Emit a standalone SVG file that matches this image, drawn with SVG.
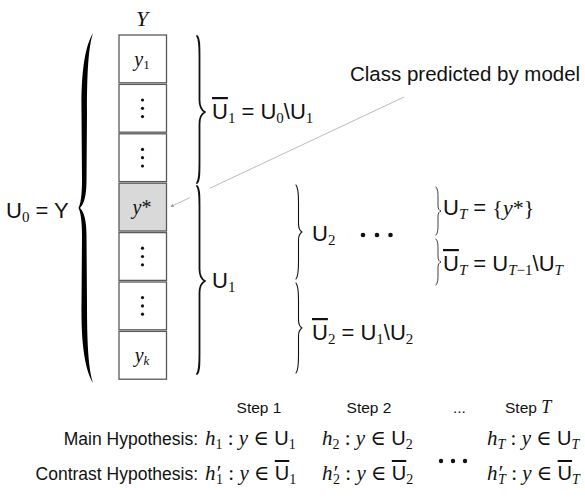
<svg xmlns="http://www.w3.org/2000/svg" width="585" height="498" viewBox="0 0 585 498">
<style>
.s{font-family:"Liberation Sans",Arial,sans-serif;fill:#111}
.m{font-family:"Liberation Serif","DejaVu Serif",serif;fill:#111}
.i{font-style:italic}
.u{font-family:"Liberation Sans",Arial,sans-serif}
.ob{text-decoration:overline}
.box{fill:#fff;stroke:#5a5a5a;stroke-width:1.3}
.brace{fill:none;stroke:#111;stroke-linecap:round;stroke-linejoin:round}
.dot{fill:#111}
</style>
<defs>
<marker id="ah" viewBox="0 0 6 6" refX="5" refY="3" markerWidth="4" markerHeight="4" orient="auto">
<path d="M0,0 L6,3 L0,6 Z" fill="#888"/>
</marker>
</defs>
<rect width="585" height="498" fill="#fff"/>

<g id="label-Y"><text x="142" y="26" class="m i" font-size="22" text-anchor="middle">Y</text></g>

<g id="column">
<g id="box1"><rect class="box" x="119" y="35" width="47.5" height="47.8"/><text x="142" y="65.5" class="m" font-size="20" text-anchor="middle"><tspan class="i">y</tspan><tspan font-size="13" dy="3">1</tspan></text></g>
<g id="box2"><rect class="box" x="119" y="84.4" width="47.5" height="47.8"/><circle class="dot" cx="142.5" cy="100" r="1.6"/><circle class="dot" cx="142.5" cy="108.3" r="1.6"/><circle class="dot" cx="142.5" cy="116.6" r="1.6"/></g>
<g id="box3"><rect class="box" x="119" y="133.8" width="47.5" height="47.8"/><circle class="dot" cx="142.5" cy="149.4" r="1.6"/><circle class="dot" cx="142.5" cy="157.7" r="1.6"/><circle class="dot" cx="142.5" cy="166" r="1.6"/></g>
<g id="box-ystar"><rect class="box" x="119" y="183.2" width="47.5" height="47.8" style="fill:#d9d9d9"/><text x="142" y="214" class="m" font-size="20" text-anchor="middle"><tspan class="i">y</tspan>*</text></g>
<g id="box5"><rect class="box" x="119" y="232.6" width="47.5" height="47.8"/><circle class="dot" cx="142.5" cy="248.2" r="1.6"/><circle class="dot" cx="142.5" cy="256.5" r="1.6"/><circle class="dot" cx="142.5" cy="264.8" r="1.6"/></g>
<g id="box6"><rect class="box" x="119" y="282" width="47.5" height="47.8"/><circle class="dot" cx="142.5" cy="297.6" r="1.6"/><circle class="dot" cx="142.5" cy="305.9" r="1.6"/><circle class="dot" cx="142.5" cy="314.2" r="1.6"/></g>
<g id="boxk"><rect class="box" x="119" y="331.4" width="47.5" height="47.8"/><text x="142" y="361.5" class="m" font-size="20" text-anchor="middle"><tspan class="i">y</tspan><tspan class="i" font-size="13" dy="3">k</tspan></text></g>
</g>

<g id="U0">
<path d="M93,33 C85,46 81,72 81.5,112 L82,180 C82,196 80.5,204 78.5,208 C80.5,212 82,220 82,236 L81.5,304 C81,344 85,370 93,383 C88.5,369 87,344 87,304 L86.5,236 C86.5,220 84,212 80,208 C84,204 86.5,196 86.5,180 L87,112 C87,72 88.5,47 93,33 Z" fill="#000"/>
<text x="6" y="218" class="s" font-size="22">U<tspan class="m" font-size="15" dy="4">0</tspan><tspan dy="-4"> = Y</tspan></text>
</g>

<g id="Ubar1">
<path class="brace" stroke-width="1.8" d="M197,36 C199.5,39 199.5,46 199.5,56 L199.5,100 C199.5,108 203,111 205,112 C203,113 199.5,116 199.5,124 L199.5,163 C199.5,173 199.5,180 197,183"/>
<text x="212" y="119" class="s" font-size="22"><tspan class="ob">U</tspan><tspan class="m" font-size="15" dy="4">1</tspan><tspan dy="-4"> = U</tspan><tspan class="m" font-size="15" dy="4">0</tspan><tspan dy="-4">\U</tspan><tspan class="m" font-size="15" dy="4">1</tspan></text>
</g>

<g id="U1">
<path class="brace" stroke-width="1.8" d="M197,186 C199.5,189 199.5,196 199.5,206 L199.5,269 C199.5,277 203,280 205,281 C203,282 199.5,285 199.5,293 L199.5,354 C199.5,364 199.5,371 197,374"/>
<text x="212" y="288" class="s" font-size="22">U<tspan class="m" font-size="15" dy="4">1</tspan></text>
</g>

<g id="U2">
<path class="brace" stroke-width="1.1" d="M296,185 C298.5,188 298.5,194 298.5,202 L298.5,224 C298.5,229 300.5,231 302,232 C300.5,233 298.5,235 298.5,240 L298.5,262 C298.5,270 298.5,276 296,279"/>
<text x="312" y="241" class="s" font-size="22">U<tspan class="m" font-size="15" dy="4">2</tspan></text>
</g>

<g id="Ubar2">
<path class="brace" stroke-width="1.1" d="M296,283 C298.5,286 298.5,292 298.5,300 L298.5,320 C298.5,325 300.5,327 302,328 C300.5,329 298.5,331 298.5,336 L298.5,356 C298.5,364 298.5,370 296,373"/>
<text x="312" y="340" class="s" font-size="22"><tspan class="ob">U</tspan><tspan class="m" font-size="15" dy="4">2</tspan><tspan dy="-4"> = U</tspan><tspan class="m" font-size="15" dy="4">1</tspan><tspan dy="-4">\U</tspan><tspan class="m" font-size="15" dy="4">2</tspan></text>
</g>

<g id="mid-dots"><circle class="dot" cx="363" cy="235" r="2.3"/><circle class="dot" cx="377" cy="235" r="2.3"/><circle class="dot" cx="390.5" cy="235" r="2.3"/></g>

<g id="UT">
<path class="brace" stroke-width="0.8" d="M436,187 C438,189 438,193 438,198 L438,206 C438,209 439.5,210.5 441,211 C439.5,211.5 438,213 438,216 L438,224 C438,229 438,233 436,235"/>
<text x="443" y="215" class="s" font-size="22">U<tspan class="m i" font-size="15" dy="4">T</tspan><tspan dy="-4"> = </tspan><tspan class="m" font-size="22">{<tspan class="i">y</tspan>*}</tspan></text>
</g>

<g id="UbarT">
<path class="brace" stroke-width="0.8" d="M436,239 C438,241 438,245 438,250 L438,257 C438,260 439.5,261.5 441,262 C439.5,262.5 438,264 438,267 L438,274 C438,279 438,283 436,285"/>
<text x="443" y="271" class="s" font-size="22"><tspan class="ob">U</tspan><tspan class="m i" font-size="15" dy="4">T</tspan><tspan dy="-4"> = U</tspan><tspan class="m" font-size="15" dy="4"><tspan class="i">T</tspan>−1</tspan><tspan dy="-4">\U</tspan><tspan class="m i" font-size="15" dy="4">T</tspan></text>
</g>

<g id="callout"><text x="350" y="81" class="s" font-size="20.5">Class predicted by model</text></g>

<g id="connectors">
<line x1="404" y1="97" x2="210" y2="188.2" stroke="#aaa" stroke-width="0.8"/>
<line x1="190" y1="197.6" x2="171" y2="206.5" stroke="#aaa" stroke-width="0.8" marker-end="url(#ah)"/>
</g>

<g id="steps">
<text x="259" y="413" class="s" font-size="15.5" text-anchor="middle">Step 1</text>
<text x="369" y="413" class="s" font-size="15.5" text-anchor="middle">Step 2</text>
<text x="453" y="413" class="s" font-size="15.5">...</text>
<text x="505" y="413" class="s" font-size="15.5">Step <tspan class="m i" font-size="18">T</tspan></text>
</g>

<g id="main-hyp">
<text x="198" y="445" class="s" font-size="17.5" text-anchor="end">Main Hypothesis:</text>
<text y="445" class="m" font-size="21"><tspan x="205" class="i">h</tspan><tspan font-size="14" dy="4">1</tspan><tspan dy="-4"> : </tspan><tspan class="i">y</tspan><tspan> ∈ </tspan><tspan class="u" font-size="20">U</tspan><tspan font-size="14" dy="4">1</tspan></text>
<text y="445" class="m" font-size="21"><tspan x="322" class="i">h</tspan><tspan font-size="14" dy="4">2</tspan><tspan dy="-4"> : </tspan><tspan class="i">y</tspan><tspan> ∈ </tspan><tspan class="u" font-size="20">U</tspan><tspan font-size="14" dy="4">2</tspan></text>
<text y="445" class="m" font-size="21"><tspan x="487" class="i">h</tspan><tspan class="i" font-size="14" dy="4">T</tspan><tspan dy="-4"> : </tspan><tspan class="i">y</tspan><tspan> ∈ </tspan><tspan class="u" font-size="20">U</tspan><tspan class="i" font-size="14" dy="4">T</tspan></text>
</g>

<g id="contrast-hyp">
<text x="198" y="480" class="s" font-size="17.5" text-anchor="end">Contrast Hypothesis:</text>
<text y="480" class="m" font-size="21"><tspan x="205" class="i">h′</tspan><tspan font-size="14" dx="-4" dy="4">1</tspan><tspan dy="-4"> : </tspan><tspan class="i">y</tspan><tspan> ∈ </tspan><tspan class="u ob" font-size="20">U</tspan><tspan font-size="14" dy="4">1</tspan></text>
<text y="480" class="m" font-size="21"><tspan x="322" class="i">h′</tspan><tspan font-size="14" dx="-4" dy="4">2</tspan><tspan dy="-4"> : </tspan><tspan class="i">y</tspan><tspan> ∈ </tspan><tspan class="u ob" font-size="20">U</tspan><tspan font-size="14" dy="4">2</tspan></text>
<text y="480" class="m" font-size="21"><tspan x="487" class="i">h′</tspan><tspan class="i" font-size="14" dx="-4" dy="4">T</tspan><tspan dy="-4"> : </tspan><tspan class="i">y</tspan><tspan> ∈ </tspan><tspan class="u ob" font-size="20">U</tspan><tspan class="i" font-size="14" dy="4">T</tspan></text>
</g>

<g id="bottom-dots"><circle class="dot" cx="441" cy="461" r="2.2"/><circle class="dot" cx="453" cy="461" r="2.2"/><circle class="dot" cx="465" cy="461" r="2.2"/></g>
</svg>
